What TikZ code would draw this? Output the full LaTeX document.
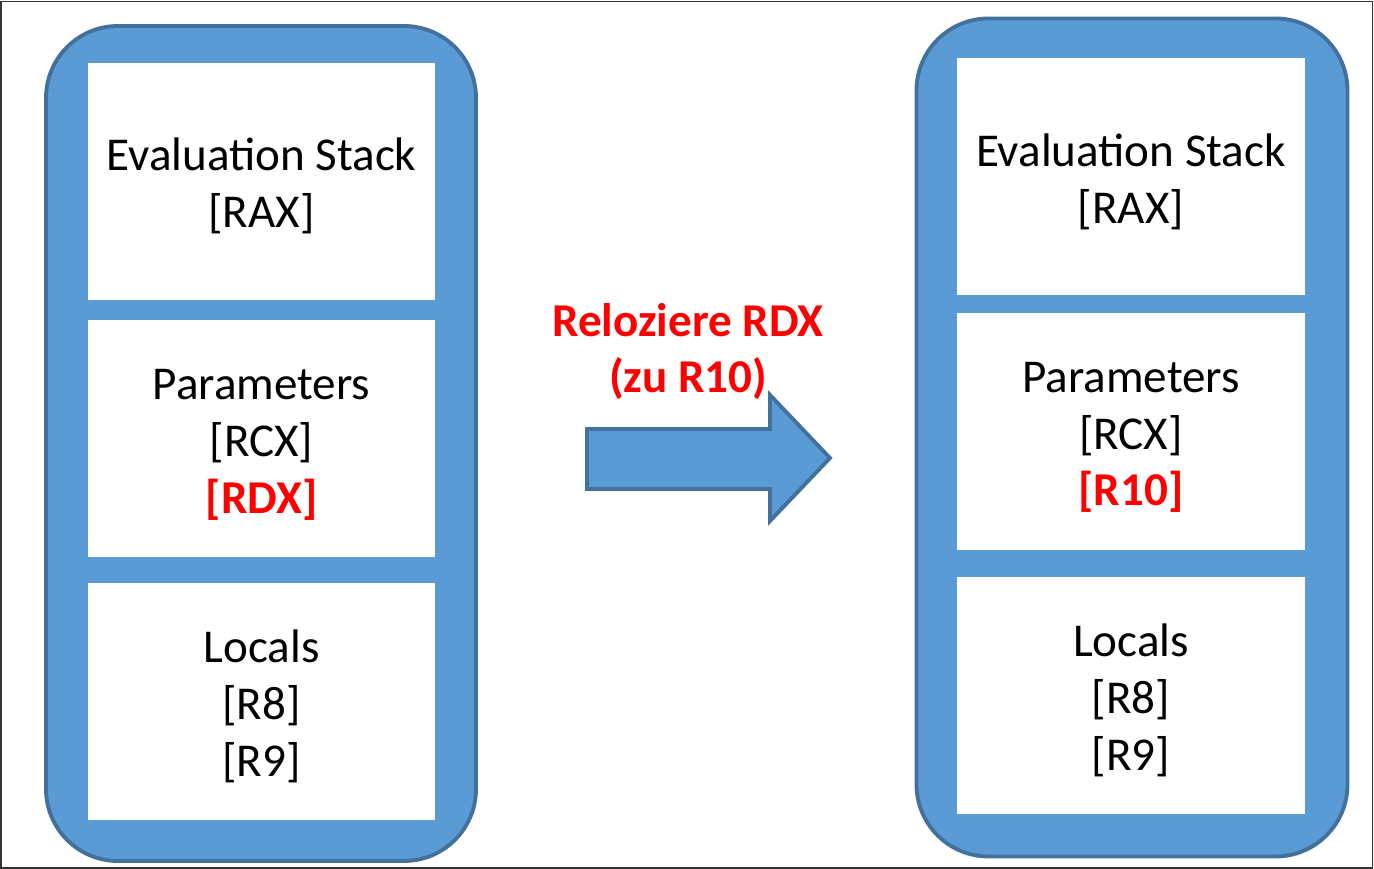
\documentclass[tikz,border=0pt]{standalone}
\usepackage{fontspec}
\setmainfont{Carlito}
\usepackage{tikz}
\usetikzlibrary{calc,positioning}

\definecolor{boxblue}{HTML}{5B9BD5}
\definecolor{edgeblue}{HTML}{41719C}
\definecolor{relred}{HTML}{FF0000}

\newcommand{\lowtop}{\rule{0pt}{4.2mm}}

\tikzset{
  frame/.style={draw=edgeblue, line width=1.1pt, fill=boxblue, rounded corners=7.2mm},
  slot/.style={fill=white, minimum width=34.7mm, minimum height=23.7mm, inner sep=0pt,
    align=center, font=\fontsize{13.4}{16.2}\selectfont},
}

\begin{document}
\begin{tikzpicture}
				 %\draw[color=gray,step=1mm, help lines,opacity=0.3] (0pt,0pt) grid (137.4mm,86.9mm); %help grids
				 \useasboundingbox (0mm,0mm) rectangle (137.4mm,86.9mm);
				 \draw[color=black!80, line width=0.45pt] (0.1mm,0.1mm) rectangle (137.25mm,86.75mm);
				 % left and right containers
				 \draw[frame] (4.6mm,0.8mm) rectangle (47.6mm,84.3mm);
				 \draw[frame] (91.65mm,1.25mm) rectangle (134.75mm,85.05mm);
				 % before
				 \node[slot] (evA)  at (26.15mm,68.75mm) {\lowtop Evaluation Stack\\{[RAX]}};
				 \node[slot] (parA) at (26.15mm,43.0mm) {\lowtop Parameters\\{[RCX]}\\{\color{relred}\bfseries [RDX]}};
				 \node[slot] (locA) at (26.15mm,16.75mm) {\lowtop Locals\\{[R8]}\\{[R9]}};
				 % after
				 \node[slot, minimum width=34.8mm] (evB)  at (113.1mm,69.2mm) {\lowtop Evaluation Stack\\{[RAX]}};
				 \node[slot, minimum width=34.8mm] (parB) at (113.1mm,43.75mm) {\lowtop Parameters\\{[RCX]}\\{\color{relred}\bfseries [R10]}};
				 \node[slot, minimum width=34.8mm] (locB) at (113.1mm,17.3mm) {\lowtop Locals\\{[R8]}\\{[R9]}};
				 % block arrow
				 \coordinate (S0) at (58.7mm,44.0mm) ;
				 \coordinate (S1) at (77.0mm,44.0mm) ;
				 \coordinate (H0) at (77.0mm,47.4mm) ;
				 \coordinate (T)  at (83.0mm,41.1mm) ;
				 \coordinate (H1) at (77.0mm,34.8mm) ;
				 \coordinate (S2) at (77.0mm,38.0mm) ;
				 \coordinate (S3) at (58.7mm,38.0mm) ;
				 \draw[draw=edgeblue, line width=1.1pt, fill=boxblue] (S0)--(S1)--(H0)--(T)--(H1)--(S2)--(S3)--cycle;
				 \node[slot, fill=none, minimum width=0pt, minimum height=0pt, text=relred, font=\fontsize{13.4}{16}\selectfont\bfseries] (move) at (68.8mm,51.75mm) {Reloziere RDX\\(zu R10)};
				\end{tikzpicture}
\end{document}
